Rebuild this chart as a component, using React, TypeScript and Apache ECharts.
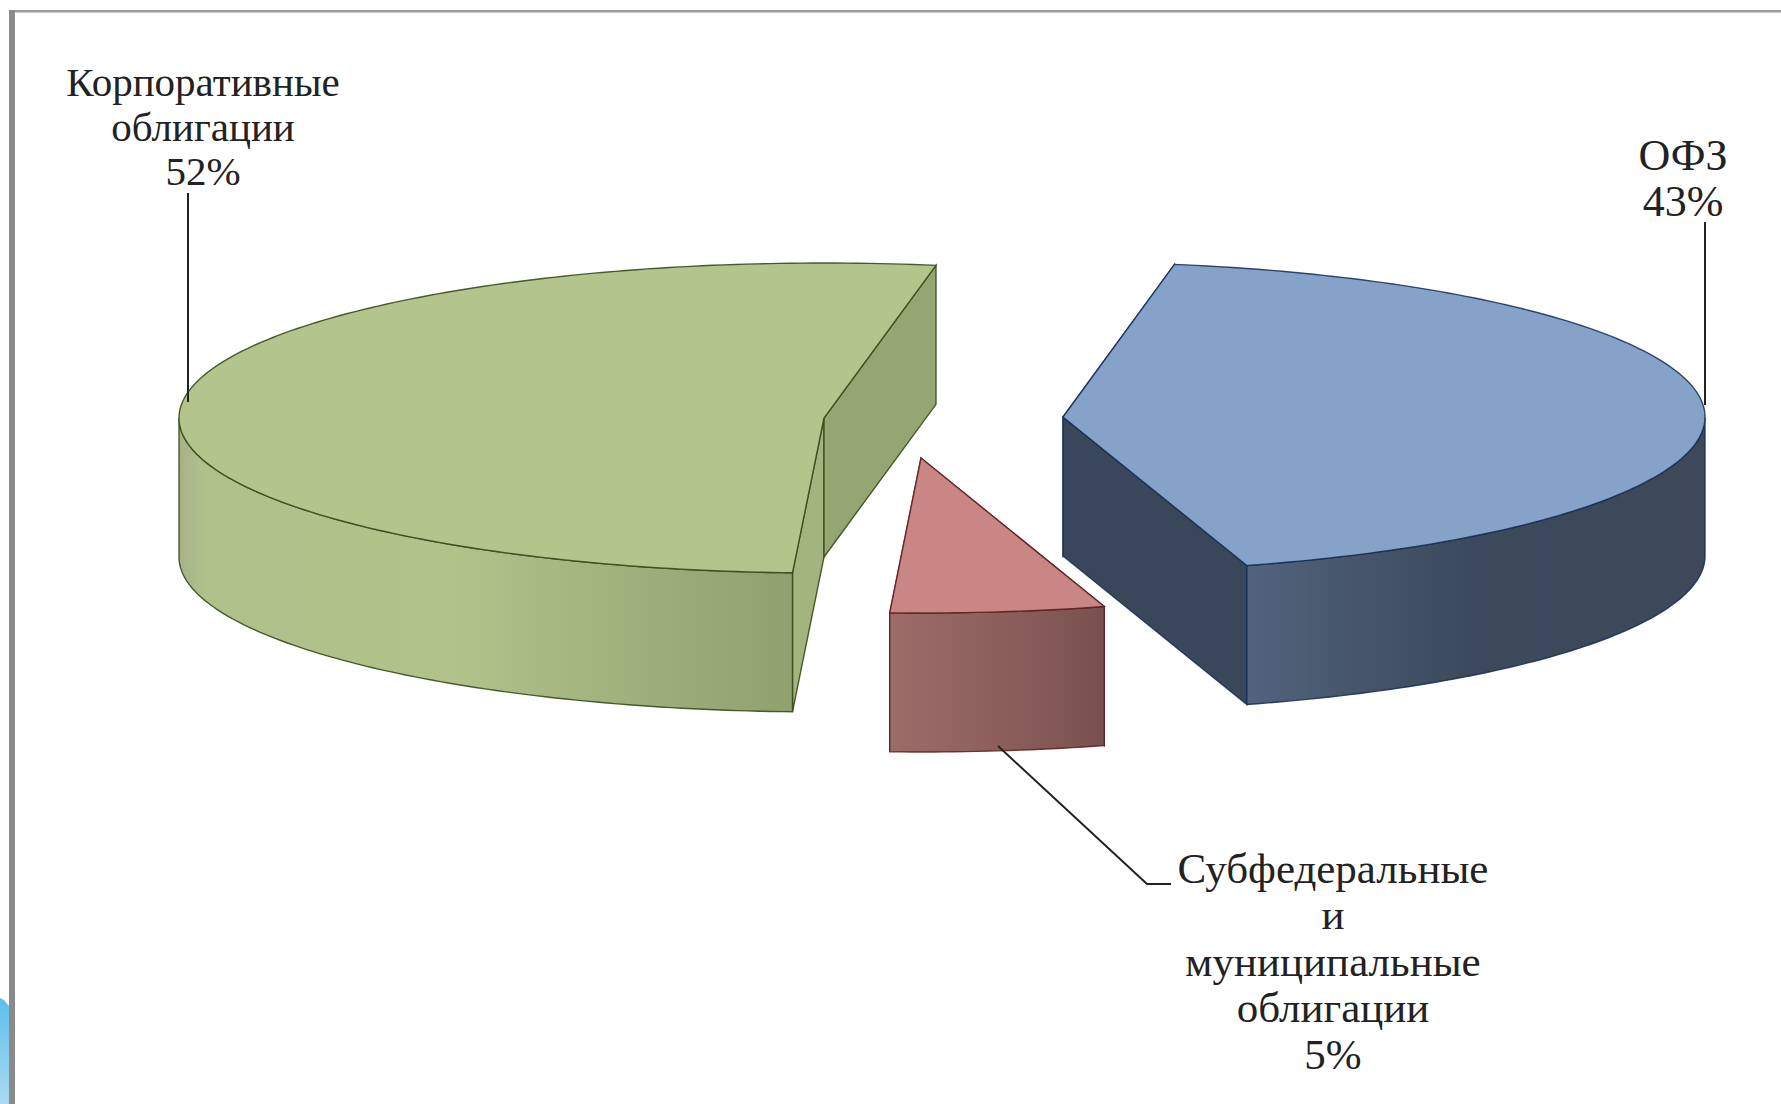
import React, { useEffect, useRef } from "react";
import * as echarts from "echarts";

const categories = ["ОФЗ", "Субфедеральные\nи\nмуниципальные\nоблигации", "Корпоративные\nоблигации"];
const shareValues = [42.6, 5.4, 52];

const W = 1781;
const H = 1104;
const START_ANGLE = -80;
const RY = 155;
const DEPTH = 139;
const INK = "#222222";
const FONT = '"Liberation Serif", "Times New Roman", serif';

const sliceCenters = [
  { cx: 1063, cy: 417, rx: 642 },
  { cx: 921, cy: 458, rx: 640 },
  { cx: 824, cy: 418, rx: 645 },
];
const topColors = ["#87a2c9", "#c98685", "#b3c48c"];
const edgeColors = ["rgba(20,45,85,0.85)", "rgba(90,30,30,0.85)", "rgba(55,75,30,0.9)"];
const startCutColors = ["#3a4659", "#8c5f5d", "#a4b47f"];
const endCutColors = ["#3a4659", "#8c5f5d", "#95a673"];
const wallStops = [
  [[0, "#51647e"], [0.25, "#465569"], [0.5, "#3c495c"], [1, "#3e4859"]],
  [[0, "#9c6c69"], [0.5, "#8c5f5d"], [1, "#7a5150"]],
  [[0, "#a6b18a"], [0.04, "#b0c08a"], [0.45, "#b2c28b"], [1, "#90a06f"]],
];

const labelPlaces = [
  { x: 1683, top: 132, lineHeight: 46, size: 44 },
  { x: 1333, top: 845, lineHeight: 46.5, size: 43 },
  { x: 203, top: 60, lineHeight: 44.5, size: 41 },
];
const leaderLines = [
  [[1705, 222], [1705, 405]],
  [[998, 746], [1147, 884], [1171, 884]],
  [[188, 193], [188, 402]],
];

const rad = (d: number) => (d * Math.PI) / 180;

function arc(cx: number, cy: number, rx: number, a: number, b: number, dy = 0) {
  const pts: number[][] = [];
  const n = Math.max(2, Math.ceil(Math.abs(b - a)));
  for (let i = 0; i <= n; i++) {
    const t = rad(a + ((b - a) * i) / n);
    pts.push([cx + rx * Math.cos(t), cy + dy + RY * Math.sin(t)]);
  }
  return pts;
}

function angleRange(index: number) {
  const total = shareValues.reduce((s, v) => s + v, 0);
  let a = START_ANGLE;
  for (let i = 0; i < index; i++) a += (shareValues[i] / total) * 360;
  return [a, a + (shareValues[index] / total) * 360];
}

function renderSlice(params: any) {
  const i = params.dataIndex;
  const { cx, cy, rx } = sliceCenters[i];
  const [a, b] = angleRange(i);
  const stroke = edgeColors[i];
  const children: any[] = [];
  const poly = (points: number[][], fill: any) =>
    children.push({ type: "polygon", shape: { points }, style: { fill, stroke, lineWidth: 1.4 } });
  const cut = (t: number, fill: string) => {
    const e = arc(cx, cy, rx, t, t)[0];
    poly([[cx, cy], e, [e[0], e[1] + DEPTH], [cx, cy + DEPTH]], fill);
  };
  cut(a, startCutColors[i]);
  cut(b, endCutColors[i]);
  const wa = Math.max(a, 0);
  const wb = Math.min(b, 180);
  if (wb > wa) {
    const upper = arc(cx, cy, rx, wa, wb);
    const lower = arc(cx, cy, rx, wa, wb, DEPTH).reverse();
    poly(upper.concat(lower), {
      type: "linear",
      x: 0,
      y: 0,
      x2: 1,
      y2: 0,
      colorStops: wallStops[i].map(([offset, color]) => ({ offset, color })),
    });
  }
  poly([[cx, cy], ...arc(cx, cy, rx, a, b)], topColors[i]);
  return { type: "group", children };
}

export default function App() {
  const ref = useRef<HTMLDivElement>(null);
  useEffect(() => {
    document.body.style.margin = "0";
    const chart = echarts.init(ref.current!, null, { renderer: "svg" });
    const total = shareValues.reduce((s, v) => s + v, 0);
    chart.setOption({
      animation: false,
      backgroundColor: "#ffffff",
      series: [
        {
          type: "custom",
          coordinateSystem: "none",
          data: shareValues.map((v, i) => ({ name: categories[i], value: [v] })),
          renderItem: renderSlice,
          silent: true,
        },
      ],
      graphic: [
        { type: "rect", shape: { x: 9, y: 10, width: W - 9, height: 2.5 }, style: { fill: "#9a9a9a" } },
        { type: "rect", shape: { x: 9, y: 10, width: 6, height: H - 10 }, style: { fill: "#8a8a8a" } },
        {
          type: "polygon",
          shape: { points: [[0, 998], [4, 1000], [9, 1006], [9, H], [0, H]] },
          style: {
            fill: {
              type: "linear",
              x: 0,
              y: 0,
              x2: 0,
              y2: 1,
              colorStops: [
                { offset: 0, color: "#5cbfec" },
                { offset: 1, color: "#acd9f3" },
              ],
            },
          },
        },
        ...leaderLines.map((points) => ({
          type: "polyline",
          z: 10,
          shape: { points },
          style: { stroke: INK, lineWidth: 2, fill: "none" },
        })),
        ...categories.map((name, i) => ({
          type: "text",
          z: 10,
          x: labelPlaces[i].x,
          y: labelPlaces[i].top,
          style: {
            text: `${name}\n${Math.round((shareValues[i] / total) * 100)}%`,
            font: `${labelPlaces[i].size}px ${FONT}`,
            fill: "#222222",
            align: "center",
            verticalAlign: "top",
            lineHeight: labelPlaces[i].lineHeight,
          },
        })),
      ],
    });
    return () => chart.dispose();
  }, []);
  return <div ref={ref} style={{ position: "absolute", left: 0, top: 0, width: W, height: H }} />;
}
